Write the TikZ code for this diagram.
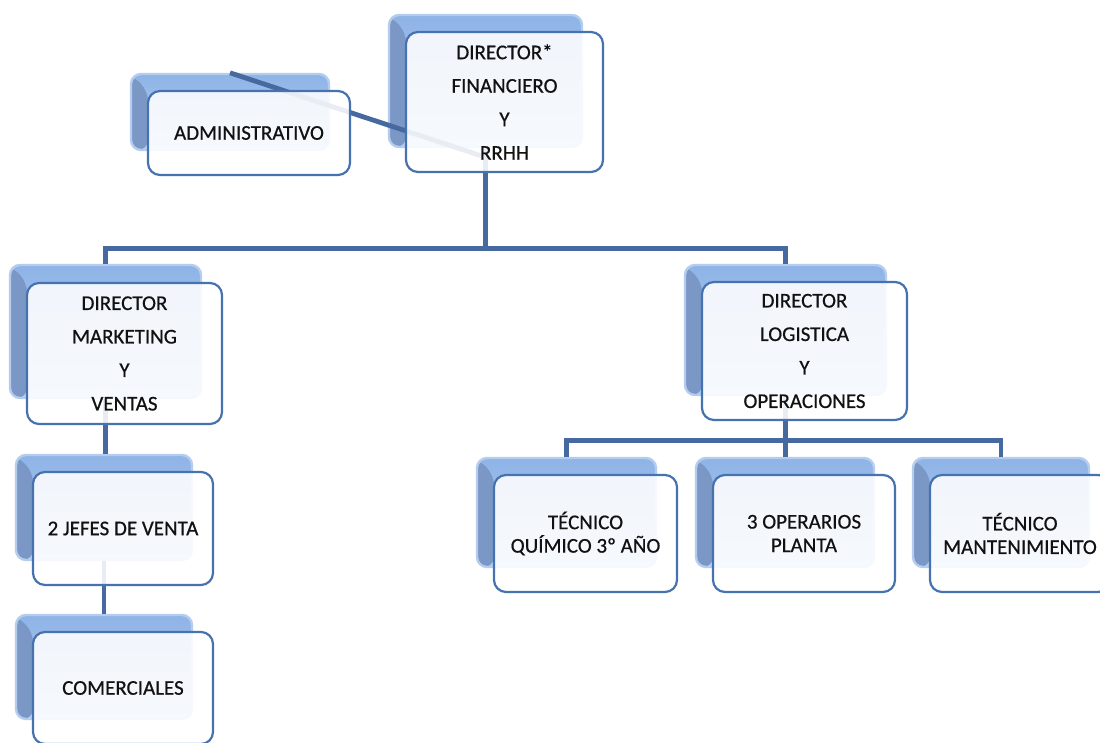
\documentclass[tikz,border=0pt]{standalone}
\usepackage{fontspec}
\setmainfont{Carlito}
\newfontfamily\cardfont{Carlito}[FakeBold=0.6]
\usetikzlibrary{calc}
\definecolor{bbTop}{HTML}{8EB3E6}
\definecolor{bbBot}{HTML}{B7D1F4}
\definecolor{bbSide}{HTML}{7B97C6}
\definecolor{bbEdge}{HTML}{B4CDEF}
\definecolor{frEdge}{HTML}{4672B0}
\definecolor{connC}{HTML}{46699F}
\definecolor{txtC}{HTML}{111111}
\begin{document}
\begin{tikzpicture}[x=1pt,y=-1pt,
  wh/.style 2 args={minimum width=#1pt, minimum height=#2pt},
  backbox/.style={rounded corners=10pt, top color=bbTop, bottom color=bbBot,
    draw=bbEdge, line width=2.4pt, inner sep=0pt,
    path picture={\fill[bbSide] (path picture bounding box.north west)
      -- ++(17pt,-17pt) |- (path picture bounding box.south west) -- cycle;}},
  frontbox/.style={rounded corners=12pt, draw=frEdge, line width=2.2pt,
    fill=white, fill opacity=0.88, text opacity=1, inner sep=2pt,
    align=center, text=txtC, font=\cardfont\fontsize{21}{23.5}\selectfont},
  tall/.style={font=\cardfont\fontsize{21}{33.5}\selectfont},
  conn/.style={draw=connC, line width=4.8pt}]
\clip (0,0) rectangle (1100,743);
\fill[white] (0,0) rectangle (1100,743);

% raised back slabs
\node[backbox, wh={193}{132}] (finB) at (485.5,81) {};
\node[backbox, wh={198}{76}]  (admB) at (230,112) {};
\node[backbox, wh={191}{133}] (mktB) at (105.5,331.5) {};
\node[backbox, wh={201}{130}] (logB) at (785.5,330) {};
\node[backbox, wh={176}{105}] (jefB) at (104,507.5) {};
\node[backbox, wh={176}{104}] (comB) at (104,667) {};
\node[backbox, wh={179}{109}] (quiB) at (566.5,512.5) {};
\node[backbox, wh={178}{109}] (opeB) at (785,512.5) {};
\node[backbox, wh={176}{109}] (manB) at (1001,512.5) {};

% connectors
\draw[conn] (finB.south) -- ++(0,100) coordinate (j1);
\draw[conn] (mktB.north) |- (j1) -| (logB.north);
\coordinate (a1) at ($(finB.south)+(0,9)$);
\draw[conn] (a1) -- (admB.north);
\draw[conn] (logB.south) -- ++(0,44) coordinate (j2);
\draw[conn] (quiB.north) |- (j2) -| (manB.north);
\draw[conn] (j2) -- (j2 |- opeB.north);
\draw[conn] (mktB.south) -- (mktB.south |- jefB.north);
\draw[conn] (jefB.south) -- (comB.north);

% front cards
\node[frontbox, tall, wh={197}{140}] (fin) at (504.5,102) {DIRECTOR*\\FINANCIERO\\Y\\RRHH};
\node[frontbox, wh={202}{84}] (adm) at (249,133) {ADMINISTRATIVO};
\node[frontbox, tall, wh={195}{141}] (mkt) at (124.5,353.5) {DIRECTOR\\MARKETING\\Y\\VENTAS};
\node[frontbox, tall, wh={205}{138}] (log) at (804.5,351) {DIRECTOR\\LOGISTICA\\Y\\OPERACIONES};
\node[frontbox, wh={180}{113}] (jef) at (123,528.5) {2 JEFES DE VENTA};
\node[frontbox, wh={180}{112}] (com) at (123,688) {COMERCIALES};
\node[frontbox, wh={183}{117}] (qui) at (585.5,533.5) {TÉCNICO\\QUÍMICO 3º AÑO};
\node[frontbox, wh={182}{117}] (ope) at (804,533.5) {3 OPERARIOS\\PLANTA};
\node[frontbox, wh={180}{117}] (man) at (1020,533.5) {TÉCNICO\\MANTENIMIENTO};
\end{tikzpicture}
\end{document}
